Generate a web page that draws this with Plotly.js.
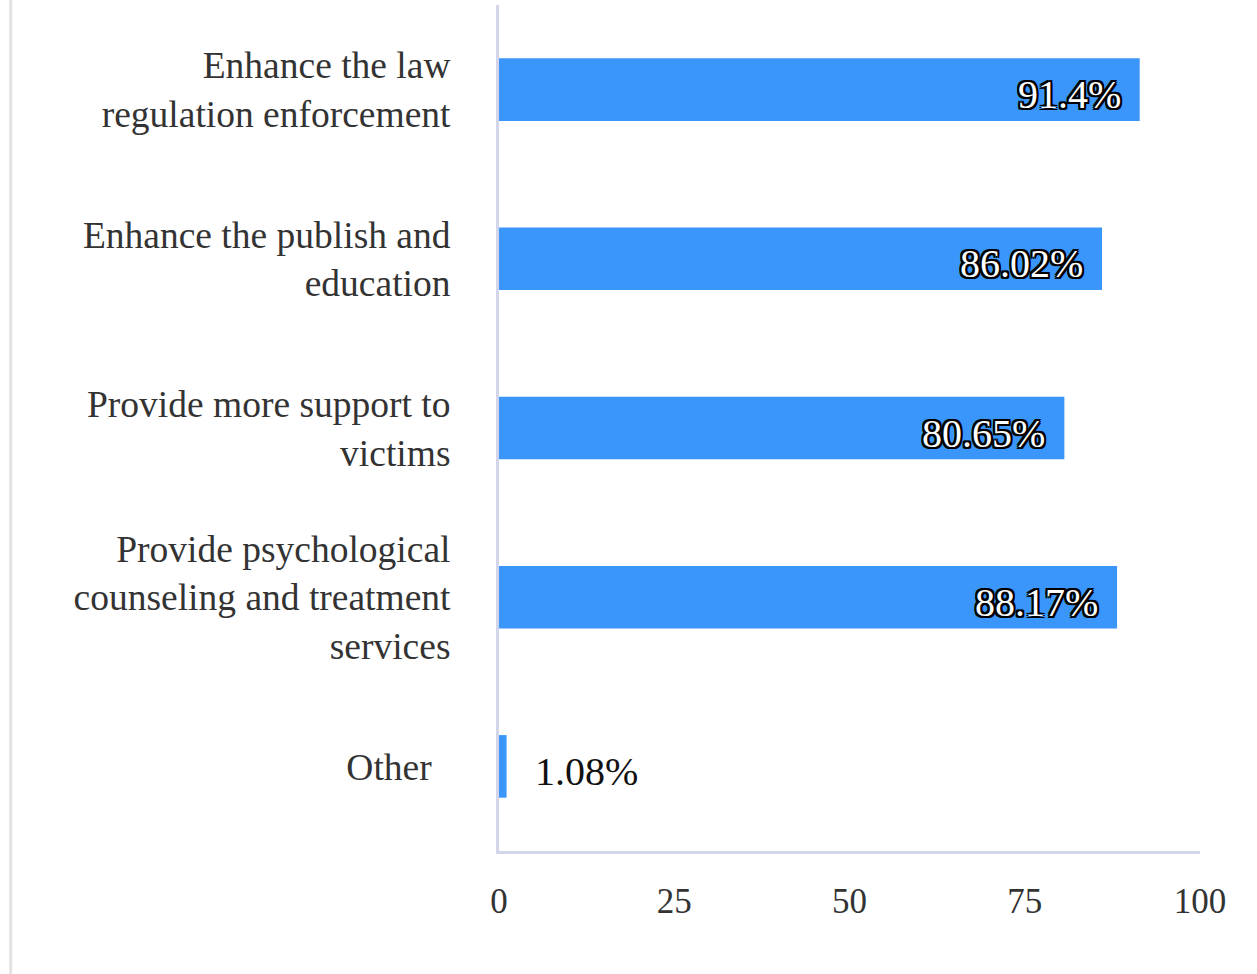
<!DOCTYPE html>
<html>
<head>
<meta charset="utf-8">
<script src="https://cdn.plot.ly/plotly-3.0.1.min.js"></script>
<style>html,body{margin:0;padding:0;background:#fff;}#chart{width:1257px;height:974px;}</style>
</head>
<body>
<div id="chart"></div>
<script>
const categories = [
  "Enhance the law<br>regulation enforcement",
  "Enhance the publish and<br>education",
  "Provide more support to<br>victims",
  "Provide psychological<br>counseling and treatment<br>services",
  "Other&nbsp;&nbsp;"
];
const values = [91.4, 86.02, 80.65, 88.17, 1.08];
const valueLabels = ["91.4%", "86.02%", "80.65%", "88.17%", "1.08%"];
const xTicks = [0, 25, 50, 75, 100];

const FONT = "'Liberation Serif', 'Times New Roman', 'DejaVu Serif', serif";
const outline = "2px 2px 0 #000, -2px -2px 0 #000, 2px -2px 0 #000, -2px 2px 0 #000, 0 2px 0 #000, 0 -2px 0 #000, 2px 0 0 #000, -2px 0 0 #000";

const annotations = values.map((v, i) => {
  const inside = v > 10;
  return {
    x: v, y: categories[i], xref: 'x', yref: 'y',
    text: valueLabels[i], showarrow: false,
    xanchor: inside ? 'right' : 'left',
    xshift: inside ? -17 : 26,
    yshift: -5,
    font: inside
      ? {family: FONT, size: 40, color: '#ffffff', shadow: outline}
      : {family: FONT, size: 40, color: '#111111'}
  };
});

const trace = {
  type: 'bar', orientation: 'h',
  x: values, y: categories,
  marker: {color: '#3a96fa'},
  width: 0.37,
  hoverinfo: 'none'
};

const layout = {
  width: 1257, height: 974,
  margin: {l: 499, r: 57, t: 5, b: 123},
  paper_bgcolor: '#ffffff', plot_bgcolor: '#ffffff',
  showlegend: false,
  font: {family: FONT, color: '#333333'},
  xaxis: {
    range: [0, 100], tickvals: xTicks, ticktext: xTicks.map(String),
    showgrid: false, zeroline: false,
    showline: true, linecolor: '#d3d6ea', linewidth: 3,
    ticks: '', ticklabelstandoff: 17,
    tickfont: {family: FONT, size: 35, color: '#333333'}
  },
  yaxis: {
    type: 'category', autorange: 'reversed',
    showgrid: false, zeroline: false,
    showline: true, linecolor: '#d3d6ea', linewidth: 3,
    ticks: '', ticklabelstandoff: 38,
    tickfont: {family: FONT, size: 37.5, color: '#333333'}
  },
  annotations: annotations,
  shapes: [{
    type: 'line', xref: 'paper', yref: 'paper',
    x0: -0.6965, x1: -0.6965, y0: -0.2, y1: 1.02,
    line: {color: '#e2e2e2', width: 3}
  }]
};

Plotly.newPlot('chart', [trace], layout, {displayModeBar: false, staticPlot: true});
</script>
</body>
</html>
